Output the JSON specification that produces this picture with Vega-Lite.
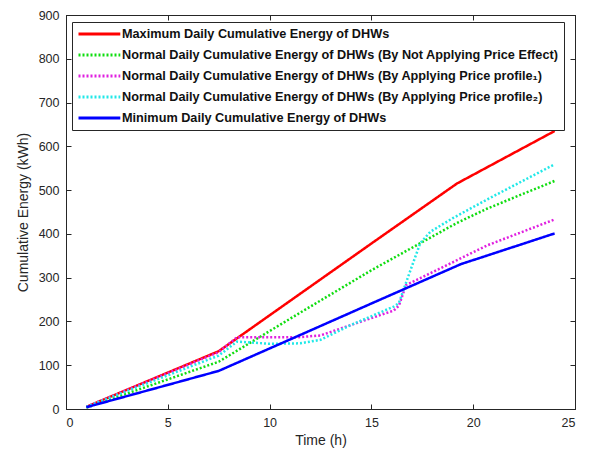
{
  "$schema": "https://vega.github.io/schema/vega-lite/v6.json",
  "autosize": {"type": "none"},
  "padding": {"left": 66, "top": 15, "right": 15, "bottom": 44},
  "width": 509,
  "height": 394,
  "background": "white",
  "config": {
    "font": "Liberation Sans",
    "view": {"stroke": "#262626", "strokeWidth": 1},
    "axis": {
      "grid": false,
      "domainColor": "#262626",
      "tickColor": "#262626",
      "labelColor": "#262626",
      "titleColor": "#262626",
      "labelFont": "Liberation Sans",
      "titleFont": "Liberation Sans",
      "labelFontSize": 12.5,
      "titleFontSize": 14,
      "titleFontWeight": "normal",
      "tickSize": -5
    }
  },
  "data": {
    "values": [
      {"series": "Maximum Daily Cumulative Energy of DHWs", "time": 1, "energy": 5},
      {"series": "Maximum Daily Cumulative Energy of DHWs", "time": 7.5, "energy": 132},
      {"series": "Maximum Daily Cumulative Energy of DHWs", "time": 15, "energy": 378},
      {"series": "Maximum Daily Cumulative Energy of DHWs", "time": 19.2, "energy": 515},
      {"series": "Maximum Daily Cumulative Energy of DHWs", "time": 24, "energy": 635},
      {"series": "Normal Daily Cumulative Energy of DHWs (By Not Applying Price Effect)", "time": 1, "energy": 3},
      {"series": "Normal Daily Cumulative Energy of DHWs (By Not Applying Price Effect)", "time": 7.5, "energy": 108},
      {"series": "Normal Daily Cumulative Energy of DHWs (By Not Applying Price Effect)", "time": 11.5, "energy": 220},
      {"series": "Normal Daily Cumulative Energy of DHWs (By Not Applying Price Effect)", "time": 15, "energy": 317},
      {"series": "Normal Daily Cumulative Energy of DHWs (By Not Applying Price Effect)", "time": 19.2, "energy": 425},
      {"series": "Normal Daily Cumulative Energy of DHWs (By Not Applying Price Effect)", "time": 20.7, "energy": 458},
      {"series": "Normal Daily Cumulative Energy of DHWs (By Not Applying Price Effect)", "time": 24, "energy": 521},
      {"series": "Normal Daily Cumulative Energy of DHWs (By Applying Price profile₁)", "time": 1, "energy": 5},
      {"series": "Normal Daily Cumulative Energy of DHWs (By Applying Price profile₁)", "time": 7.5, "energy": 130},
      {"series": "Normal Daily Cumulative Energy of DHWs (By Applying Price profile₁)", "time": 8.4, "energy": 164},
      {"series": "Normal Daily Cumulative Energy of DHWs (By Applying Price profile₁)", "time": 11.4, "energy": 164},
      {"series": "Normal Daily Cumulative Energy of DHWs (By Applying Price profile₁)", "time": 12.5, "energy": 168},
      {"series": "Normal Daily Cumulative Energy of DHWs (By Applying Price profile₁)", "time": 14, "energy": 192},
      {"series": "Normal Daily Cumulative Energy of DHWs (By Applying Price profile₁)", "time": 16.1, "energy": 225},
      {"series": "Normal Daily Cumulative Energy of DHWs (By Applying Price profile₁)", "time": 16.35, "energy": 236},
      {"series": "Normal Daily Cumulative Energy of DHWs (By Applying Price profile₁)", "time": 16.7, "energy": 283},
      {"series": "Normal Daily Cumulative Energy of DHWs (By Applying Price profile₁)", "time": 20.7, "energy": 374},
      {"series": "Normal Daily Cumulative Energy of DHWs (By Applying Price profile₁)", "time": 24, "energy": 433},
      {"series": "Normal Daily Cumulative Energy of DHWs (By Applying Price profile₂)", "time": 1, "energy": 5},
      {"series": "Normal Daily Cumulative Energy of DHWs (By Applying Price profile₂)", "time": 7.5, "energy": 122},
      {"series": "Normal Daily Cumulative Energy of DHWs (By Applying Price profile₂)", "time": 8.4, "energy": 154},
      {"series": "Normal Daily Cumulative Energy of DHWs (By Applying Price profile₂)", "time": 10, "energy": 149},
      {"series": "Normal Daily Cumulative Energy of DHWs (By Applying Price profile₂)", "time": 11.5, "energy": 150},
      {"series": "Normal Daily Cumulative Energy of DHWs (By Applying Price profile₂)", "time": 12.5, "energy": 158},
      {"series": "Normal Daily Cumulative Energy of DHWs (By Applying Price profile₂)", "time": 14, "energy": 192},
      {"series": "Normal Daily Cumulative Energy of DHWs (By Applying Price profile₂)", "time": 16.1, "energy": 234},
      {"series": "Normal Daily Cumulative Energy of DHWs (By Applying Price profile₂)", "time": 16.35, "energy": 242},
      {"series": "Normal Daily Cumulative Energy of DHWs (By Applying Price profile₂)", "time": 16.75, "energy": 295},
      {"series": "Normal Daily Cumulative Energy of DHWs (By Applying Price profile₂)", "time": 17.4, "energy": 379},
      {"series": "Normal Daily Cumulative Energy of DHWs (By Applying Price profile₂)", "time": 17.9, "energy": 405},
      {"series": "Normal Daily Cumulative Energy of DHWs (By Applying Price profile₂)", "time": 19, "energy": 436},
      {"series": "Normal Daily Cumulative Energy of DHWs (By Applying Price profile₂)", "time": 20.7, "energy": 479},
      {"series": "Normal Daily Cumulative Energy of DHWs (By Applying Price profile₂)", "time": 24, "energy": 559},
      {"series": "Minimum Daily Cumulative Energy of DHWs", "time": 1, "energy": 4},
      {"series": "Minimum Daily Cumulative Energy of DHWs", "time": 7.5, "energy": 87},
      {"series": "Minimum Daily Cumulative Energy of DHWs", "time": 11.5, "energy": 169},
      {"series": "Minimum Daily Cumulative Energy of DHWs", "time": 15, "energy": 241},
      {"series": "Minimum Daily Cumulative Energy of DHWs", "time": 19.4, "energy": 331},
      {"series": "Minimum Daily Cumulative Energy of DHWs", "time": 24, "energy": 401}
    ]
  },
  "layer": [
    {
      "mark": {"type": "line", "strokeWidth": 2.5, "clip": true},
      "encoding": {
        "x": {"field": "time", "type": "quantitative", "scale": {"domain": [0, 25], "nice": false},
              "axis": {"orient": "bottom", "title": "Time (h)", "values": [0, 5, 10, 15, 20, 25], "labelPadding": 12, "titlePadding": 5}},
        "y": {"field": "energy", "type": "quantitative", "scale": {"domain": [0, 900], "nice": false},
              "axis": {"orient": "left", "title": "Cumulative Energy (kWh)", "values": [0, 100, 200, 300, 400, 500, 600, 700, 800, 900], "labelPadding": 12, "titlePadding": 8}},
        "color": {
          "field": "series", "type": "nominal",
          "scale": {
            "domain": [
              "Maximum Daily Cumulative Energy of DHWs",
              "Normal Daily Cumulative Energy of DHWs (By Not Applying Price Effect)",
              "Normal Daily Cumulative Energy of DHWs (By Applying Price profile₁)",
              "Normal Daily Cumulative Energy of DHWs (By Applying Price profile₂)",
              "Minimum Daily Cumulative Energy of DHWs"
            ],
            "range": ["#ff0000", "#10dd10", "#e020e0", "#20e8e8", "#0000ff"]
          },
          "legend": {
            "title": null,
            "orient": "none",
            "legendX": 6,
            "legendY": 7,
            "direction": "vertical",
            "fillColor": "white",
            "strokeColor": "#262626",
            "padding": 5,
            "labelFont": "Liberation Sans",
            "labelFontSize": 12.7,
            "labelFontWeight": "bold",
            "labelColor": "#111111",
            "labelLimit": 600,
            "symbolType": "M-1,0L6.6,0",
            "symbolSize": 121,
            "symbolStrokeWidth": 3,
            "symbolFillColor": "transparent",
            "labelOffset": 31,
            "rowPadding": 7
          }
        },
        "strokeDash": {
          "field": "series", "type": "nominal",
          "scale": {
            "domain": [
              "Maximum Daily Cumulative Energy of DHWs",
              "Normal Daily Cumulative Energy of DHWs (By Not Applying Price Effect)",
              "Normal Daily Cumulative Energy of DHWs (By Applying Price profile₁)",
              "Normal Daily Cumulative Energy of DHWs (By Applying Price profile₂)",
              "Minimum Daily Cumulative Energy of DHWs"
            ],
            "range": [[1, 0], [2, 2], [2, 2], [2, 2], [1, 0]]
          },
          "legend": null
        }
      }
    },
    {
      "mark": {"type": "point", "opacity": 0},
      "encoding": {
        "x": {"field": "time", "type": "quantitative", "scale": {"domain": [0, 25], "nice": false},
              "axis": {"orient": "top", "title": null, "labels": false, "values": [0, 5, 10, 15, 20, 25]}},
        "y": {"field": "energy", "type": "quantitative", "scale": {"domain": [0, 900], "nice": false},
              "axis": {"orient": "right", "title": null, "labels": false, "values": [0, 100, 200, 300, 400, 500, 600, 700, 800, 900]}}
      }
    }
  ],
  "resolve": {"axis": {"x": "independent", "y": "independent"}}
}
